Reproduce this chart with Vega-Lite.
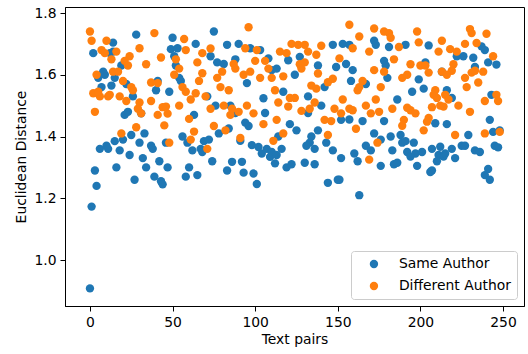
{
  "$schema": "https://vega.github.io/schema/vega-lite/v6.json",
  "width": 459,
  "height": 299,
  "autosize": {"type": "none"},
  "padding": {"left": 65, "top": 7, "right": 4, "bottom": 48},
  "background": "white",
  "config": {
    "view": {"stroke": "black", "strokeWidth": 1},
    "axis": {"domainColor": "black", "tickColor": "black", "labelColor": "black", "titleColor": "black", "labelFont": "DejaVu Sans", "titleFont": "DejaVu Sans", "labelFontSize": 13.9, "titleFontSize": 13.9, "titleFontWeight": "normal", "tickSize": 5, "labelPadding": 4, "grid": false, "domainWidth": 1, "tickWidth": 1},
    "legend": {"labelFont": "DejaVu Sans", "labelFontSize": 13.9, "labelColor": "black"}
  },
  "datasets": {
    "same": [
      {"x":0,"y":0.908},{"x":1,"y":1.173},{"x":4,"y":1.24},{"x":3,"y":1.29},{"x":6,"y":1.36},{"x":10,"y":1.37},{"x":11,"y":1.36},{"x":15,"y":1.385},{"x":18,"y":1.355},{"x":20,"y":1.39},{"x":24,"y":1.34},{"x":16,"y":1.30},{"x":27,"y":1.26},{"x":25,"y":1.405},{"x":30,"y":1.38},{"x":33,"y":1.41},{"x":32,"y":1.33},{"x":34,"y":1.30},{"x":28,"y":1.73},{"x":14,"y":1.704},{"x":2,"y":1.67},{"x":8,"y":1.61},{"x":9,"y":1.60},{"x":13,"y":1.565},{"x":7,"y":1.56},{"x":19,"y":1.63},{"x":15,"y":1.59},{"x":22,"y":1.57},{"x":26,"y":1.53},{"x":21,"y":1.47},{"x":23,"y":1.48},{"x":31,"y":1.475},{"x":12,"y":1.67},{"x":14,"y":1.675},{"x":5,"y":1.59},
      {"x":50,"y":1.72},{"x":64,"y":1.70},{"x":75,"y":1.74},{"x":49,"y":1.683},{"x":53,"y":1.686},{"x":51,"y":1.66},{"x":73,"y":1.66},{"x":52,"y":1.63},{"x":54,"y":1.59},{"x":55,"y":1.58},{"x":41,"y":1.58},{"x":40,"y":1.55},{"x":48,"y":1.545},{"x":71,"y":1.53},{"x":63,"y":1.47},{"x":37,"y":1.37},{"x":38,"y":1.36},{"x":42,"y":1.32},{"x":47,"y":1.30},{"x":39,"y":1.27},{"x":43,"y":1.255},{"x":44,"y":1.245},{"x":58,"y":1.27},{"x":65,"y":1.275},{"x":60,"y":1.30},{"x":56,"y":1.40},{"x":59,"y":1.38},{"x":62,"y":1.355},{"x":67,"y":1.36},{"x":69,"y":1.385},{"x":72,"y":1.39},{"x":68,"y":1.35},{"x":74,"y":1.32},{"x":46,"y":1.38},
      {"x":83,"y":1.697},{"x":90,"y":1.70},{"x":97,"y":1.686},{"x":103,"y":1.68},{"x":88,"y":1.65},{"x":77,"y":1.64},{"x":81,"y":1.635},{"x":108,"y":1.653},{"x":110,"y":1.615},{"x":95,"y":1.573},{"x":105,"y":1.524},{"x":106,"y":1.476},{"x":76,"y":1.50},{"x":85,"y":1.50},{"x":88,"y":1.476},{"x":94,"y":1.445},{"x":96,"y":1.434},{"x":84,"y":1.426},{"x":78,"y":1.41},{"x":91,"y":1.386},{"x":98,"y":1.372},{"x":102,"y":1.366},{"x":104,"y":1.345},{"x":107,"y":1.36},{"x":109,"y":1.334},{"x":112,"y":1.313},{"x":86,"y":1.318},{"x":92,"y":1.318},{"x":83,"y":1.29},{"x":93,"y":1.283},{"x":99,"y":1.28},{"x":101,"y":1.246},{"x":110,"y":1.35},
      {"x":147,"y":1.697},{"x":153,"y":1.70},{"x":120,"y":1.647},{"x":127,"y":1.658},{"x":124,"y":1.60},{"x":138,"y":1.63},{"x":149,"y":1.625},{"x":142,"y":1.56},{"x":140,"y":1.50},{"x":132,"y":1.53},{"x":117,"y":1.545},{"x":113,"y":1.62},{"x":132,"y":1.476},{"x":152,"y":1.454},{"x":121,"y":1.44},{"x":125,"y":1.42},{"x":114,"y":1.40},{"x":134,"y":1.40},{"x":138,"y":1.42},{"x":133,"y":1.38},{"x":131,"y":1.37},{"x":136,"y":1.36},{"x":143,"y":1.38},{"x":147,"y":1.355},{"x":116,"y":1.36},{"x":113,"y":1.34},{"x":119,"y":1.30},{"x":122,"y":1.31},{"x":130,"y":1.315},{"x":136,"y":1.31},{"x":152,"y":1.33},{"x":144,"y":1.25},{"x":150,"y":1.26},
      {"x":157,"y":1.697},{"x":172,"y":1.71},{"x":173,"y":1.697},{"x":181,"y":1.69},{"x":191,"y":1.697},{"x":178,"y":1.645},{"x":179,"y":1.63},{"x":155,"y":1.635},{"x":159,"y":1.615},{"x":158,"y":1.58},{"x":167,"y":1.57},{"x":180,"y":1.59},{"x":186,"y":1.52},{"x":178,"y":1.45},{"x":165,"y":1.45},{"x":157,"y":1.455},{"x":172,"y":1.41},{"x":176,"y":1.39},{"x":182,"y":1.40},{"x":188,"y":1.405},{"x":189,"y":1.38},{"x":191,"y":1.385},{"x":167,"y":1.37},{"x":170,"y":1.355},{"x":183,"y":1.355},{"x":192,"y":1.35},{"x":160,"y":1.345},{"x":162,"y":1.32},{"x":151,"y":1.26},{"x":176,"y":1.305},{"x":184,"y":1.31},{"x":186,"y":1.315},{"x":163,"y":1.21},
      {"x":205,"y":1.695},{"x":237,"y":1.692},{"x":239,"y":1.68},{"x":222,"y":1.66},{"x":226,"y":1.66},{"x":232,"y":1.655},{"x":203,"y":1.64},{"x":233,"y":1.625},{"x":241,"y":1.64},{"x":213,"y":1.61},{"x":199,"y":1.585},{"x":195,"y":1.545},{"x":202,"y":1.555},{"x":216,"y":1.55},{"x":219,"y":1.525},{"x":243,"y":1.535},{"x":209,"y":1.443},{"x":216,"y":1.44},{"x":229,"y":1.405},{"x":244,"y":1.415},{"x":242,"y":1.454},{"x":196,"y":1.38},{"x":197,"y":1.345},{"x":201,"y":1.35},{"x":194,"y":1.335},{"x":207,"y":1.36},{"x":212,"y":1.367},{"x":219,"y":1.36},{"x":225,"y":1.37},{"x":227,"y":1.37},{"x":233,"y":1.355},{"x":236,"y":1.35},{"x":211,"y":1.34},{"x":214,"y":1.335},{"x":210,"y":1.32},{"x":215,"y":1.345},{"x":221,"y":1.33},{"x":198,"y":1.305},{"x":207,"y":1.29},{"x":206,"y":1.285},{"x":239,"y":1.275},{"x":242,"y":1.26},{"x":241,"y":1.295},
      {"x":246,"y":1.633},{"x":248,"y":1.42},{"x":245,"y":1.37},{"x":247,"y":1.365}
    ],
    "diff": [
      {"x":0,"y":1.74},{"x":1,"y":1.71},{"x":10,"y":1.71},{"x":7,"y":1.68},{"x":9,"y":1.67},{"x":13,"y":1.65},{"x":16,"y":1.675},{"x":24,"y":1.66},{"x":21,"y":1.645},{"x":23,"y":1.63},{"x":30,"y":1.686},{"x":34,"y":1.634},{"x":4,"y":1.60},{"x":14,"y":1.61},{"x":17,"y":1.61},{"x":20,"y":1.58},{"x":2,"y":1.54},{"x":6,"y":1.53},{"x":11,"y":1.53},{"x":12,"y":1.535},{"x":18,"y":1.53},{"x":22,"y":1.515},{"x":25,"y":1.56},{"x":26,"y":1.55},{"x":30,"y":1.51},{"x":29,"y":1.49},{"x":31,"y":1.475},{"x":3,"y":1.48},{"x":28,"y":1.43},{"x":19,"y":1.41},{"x":5,"y":1.545},
      {"x":39,"y":1.735},{"x":57,"y":1.716},{"x":58,"y":1.68},{"x":43,"y":1.656},{"x":52,"y":1.65},{"x":51,"y":1.60},{"x":54,"y":1.62},{"x":65,"y":1.64},{"x":68,"y":1.67},{"x":73,"y":1.685},{"x":68,"y":1.605},{"x":66,"y":1.58},{"x":37,"y":1.575},{"x":41,"y":1.573},{"x":56,"y":1.56},{"x":58,"y":1.545},{"x":64,"y":1.54},{"x":61,"y":1.52},{"x":70,"y":1.53},{"x":73,"y":1.49},{"x":37,"y":1.515},{"x":44,"y":1.495},{"x":46,"y":1.497},{"x":47,"y":1.474},{"x":41,"y":1.47},{"x":54,"y":1.50},{"x":60,"y":1.457},{"x":45,"y":1.436},{"x":75,"y":1.434},{"x":63,"y":1.416},{"x":61,"y":1.39},{"x":71,"y":1.36},{"x":48,"y":1.38},
      {"x":96,"y":1.754},{"x":94,"y":1.686},{"x":101,"y":1.68},{"x":100,"y":1.645},{"x":106,"y":1.645},{"x":108,"y":1.62},{"x":87,"y":1.635},{"x":88,"y":1.62},{"x":80,"y":1.61},{"x":77,"y":1.59},{"x":93,"y":1.60},{"x":97,"y":1.61},{"x":103,"y":1.59},{"x":110,"y":1.59},{"x":112,"y":1.55},{"x":79,"y":1.56},{"x":84,"y":1.55},{"x":81,"y":1.50},{"x":86,"y":1.49},{"x":90,"y":1.48},{"x":95,"y":1.50},{"x":85,"y":1.47},{"x":99,"y":1.475},{"x":105,"y":1.44},{"x":82,"y":1.42},{"x":91,"y":1.395},{"x":111,"y":1.386},{"x":114,"y":1.51},
      {"x":115,"y":1.675},{"x":119,"y":1.67},{"x":122,"y":1.70},{"x":126,"y":1.697},{"x":130,"y":1.697},{"x":132,"y":1.675},{"x":137,"y":1.665},{"x":140,"y":1.694},{"x":151,"y":1.653},{"x":127,"y":1.634},{"x":130,"y":1.64},{"x":128,"y":1.62},{"x":138,"y":1.604},{"x":117,"y":1.595},{"x":144,"y":1.576},{"x":147,"y":1.587},{"x":153,"y":1.52},{"x":134,"y":1.565},{"x":137,"y":1.555},{"x":121,"y":1.525},{"x":124,"y":1.525},{"x":120,"y":1.497},{"x":128,"y":1.483},{"x":133,"y":1.49},{"x":136,"y":1.51},{"x":148,"y":1.49},{"x":142,"y":1.454},{"x":146,"y":1.45},{"x":144,"y":1.405},{"x":113,"y":1.454},{"x":117,"y":1.41},
      {"x":157,"y":1.762},{"x":172,"y":1.75},{"x":178,"y":1.74},{"x":181,"y":1.735},{"x":182,"y":1.72},{"x":187,"y":1.69},{"x":163,"y":1.724},{"x":159,"y":1.686},{"x":169,"y":1.675},{"x":184,"y":1.65},{"x":178,"y":1.61},{"x":172,"y":1.615},{"x":189,"y":1.59},{"x":192,"y":1.60},{"x":165,"y":1.58},{"x":163,"y":1.56},{"x":162,"y":1.55},{"x":176,"y":1.56},{"x":157,"y":1.49},{"x":159,"y":1.485},{"x":167,"y":1.50},{"x":173,"y":1.52},{"x":183,"y":1.49},{"x":175,"y":1.48},{"x":170,"y":1.475},{"x":152,"y":1.475},{"x":190,"y":1.454},{"x":189,"y":1.435},{"x":161,"y":1.425},{"x":174,"y":1.38},{"x":169,"y":1.325},
      {"x":198,"y":1.74},{"x":230,"y":1.748},{"x":231,"y":1.735},{"x":240,"y":1.733},{"x":199,"y":1.705},{"x":213,"y":1.71},{"x":227,"y":1.70},{"x":234,"y":1.703},{"x":211,"y":1.675},{"x":218,"y":1.683},{"x":222,"y":1.675},{"x":194,"y":1.634},{"x":200,"y":1.63},{"x":203,"y":1.63},{"x":205,"y":1.607},{"x":220,"y":1.634},{"x":219,"y":1.613},{"x":213,"y":1.61},{"x":216,"y":1.60},{"x":227,"y":1.59},{"x":231,"y":1.607},{"x":233,"y":1.613},{"x":238,"y":1.61},{"x":235,"y":1.575},{"x":228,"y":1.56},{"x":209,"y":1.55},{"x":208,"y":1.535},{"x":210,"y":1.525},{"x":215,"y":1.535},{"x":217,"y":1.52},{"x":212,"y":1.50},{"x":214,"y":1.497},{"x":207,"y":1.495},{"x":223,"y":1.50},{"x":230,"y":1.48},{"x":239,"y":1.515},{"x":192,"y":1.493},{"x":194,"y":1.485},{"x":197,"y":1.475},{"x":205,"y":1.46},{"x":204,"y":1.448},{"x":202,"y":1.42},{"x":221,"y":1.405},{"x":239,"y":1.41},
      {"x":246,"y":1.535},{"x":247,"y":1.515},{"x":248,"y":1.415},{"x":244,"y":1.66}
    ]
  },
  "encoding": {
    "x": {"field": "x", "type": "quantitative", "scale": {"domain": [-15.1, 262.7], "nice": false, "zero": false}, "axis": {"values": [0, 50, 100, 150, 200, 250], "title": "Text pairs", "titlePadding": 4}},
    "y": {"field": "y", "type": "quantitative", "scale": {"domain": [0.851, 1.8195], "nice": false, "zero": false}, "axis": {"values": [1.0, 1.2, 1.4, 1.6, 1.8], "format": ".1f", "title": "Euclidean Distance", "titlePadding": 5}}
  },
  "layer": [
    {
      "data": {"name": "same"},
      "mark": {"type": "point", "filled": true, "size": 70, "opacity": 1, "strokeWidth": 0},
      "encoding": {
        "color": {"datum": "Same Author", "type": "nominal", "scale": {"domain": ["Same Author", "Different Author"], "range": ["#1f77b4", "#ff7f0e"]}, "legend": {"title": null, "orient": "bottom-right", "offset": 7, "fillColor": "white", "strokeColor": "#cccccc", "cornerRadius": 3, "padding": 6, "symbolType": "circle", "symbolSize": 70, "symbolOffset": 10, "labelOffset": 18, "rowPadding": 7, "symbolOpacity": 1}}
      }
    },
    {
      "data": {"name": "diff"},
      "mark": {"type": "point", "filled": true, "size": 70, "opacity": 1, "strokeWidth": 0},
      "encoding": {
        "color": {"datum": "Different Author", "type": "nominal"}
      }
    }
  ]
}
